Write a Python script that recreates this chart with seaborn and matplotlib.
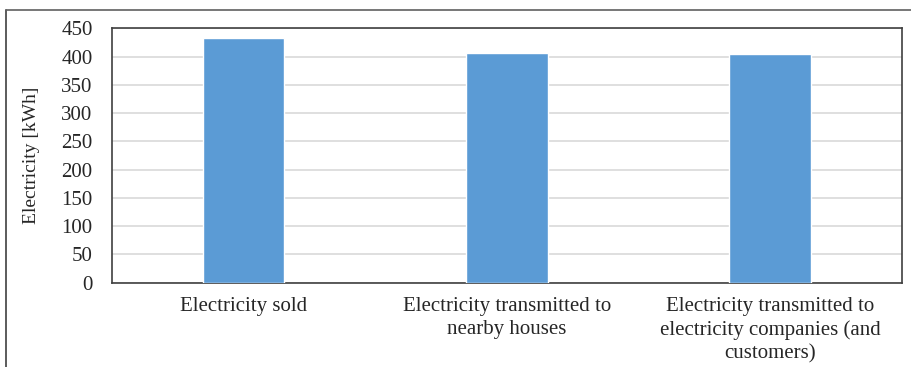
import pandas as pd
import seaborn as sns
import matplotlib.pyplot as plt
from matplotlib.lines import Line2D

# Dados
categorias = ["Electricity sold",
              "Electricity transmitted to\nnearby houses",
              "Electricity transmitted to\nelectricity companies (and\ncustomers)"]
valores = [433, 407, 404]
yticks = [0, 50, 100, 150, 200, 250, 300, 350, 400, 450]

dados = pd.DataFrame({"categoria": categorias, "valor": valores})

sns.set_style("white")
plt.rcParams['font.family'] = ['Liberation Serif', 'DejaVu Serif']

fig = plt.figure(figsize=(9.12, 3.67), dpi=100)
ax = fig.add_axes([0.1228, 0.2297, 0.8662, 0.6932])

sns.barplot(x="categoria", y="valor", data=dados, color="#5b9bd5",
            width=0.31, saturation=1, ax=ax, zorder=3)

ax.set_ylim(0, 450)
ax.set_yticks(yticks)
ax.set_xlim(-0.5, 2.5)
ax.grid(axis='y', color='#d9d9d9', linewidth=1.2, zorder=0)
ax.set_axisbelow(True)
for s in ax.spines.values():
    s.set_color('#404040')
    s.set_linewidth(1.2)

ax.set_xlabel('')
ax.set_ylabel('Electricity [kWh]', fontsize=14, labelpad=15)
ax.tick_params(axis='y', labelsize=15, length=0, pad=14)
ax.tick_params(axis='x', labelsize=15, length=0, pad=10)
for lbl in ax.get_xticklabels():
    lbl.set_linespacing(1.3)

# Moldura externa da figura
fig.add_artist(Line2D([6/912, 6/912], [0, 1 - 9.5/367], transform=fig.transFigure,
                      color='#404040', linewidth=1.2))
fig.add_artist(Line2D([6/912, 1], [1 - 9.5/367, 1 - 9.5/367], transform=fig.transFigure,
                      color='#606060', linewidth=1.2))

fig.savefig("out.png", dpi=100)
